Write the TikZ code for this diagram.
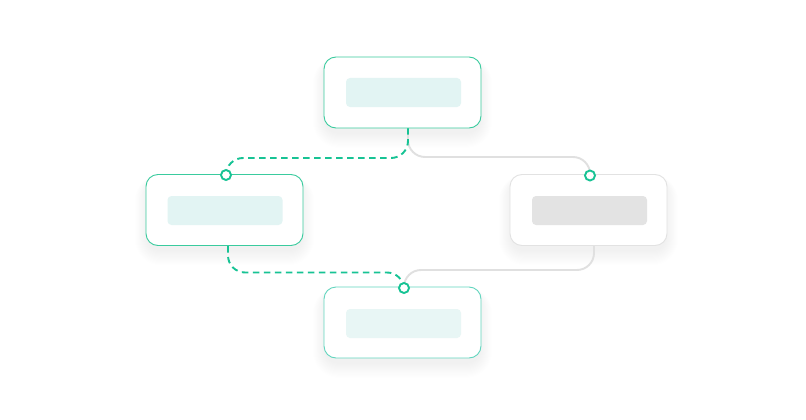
\documentclass[tikz,border=0pt]{standalone}
\usetikzlibrary{calc}
\definecolor{grn}{HTML}{17C394}
\definecolor{grnb}{HTML}{3ACB9E}
\definecolor{tealb}{HTML}{7DDCD3}
\definecolor{innerg}{HTML}{E2F4F3}
\definecolor{innergr}{HTML}{E3E3E3}
\definecolor{grayb}{HTML}{E2E2E2}
\definecolor{grayl}{HTML}{E0E0E0}
\tikzset{
  x=1pt, y=-1pt,
  card/.style={draw=grnb, line width=0.9pt, fill=white, rounded corners=12pt, minimum width=157pt, minimum height=71pt, inner sep=0pt},
  graycard/.style={card, draw=grayb},
  inbox/.style={fill=innerg, rounded corners=4pt, minimum width=115pt, minimum height=29pt, inner sep=0pt},
  ingray/.style={inbox, fill=innergr},
  dline/.style={draw=grn, line width=1.9pt, dash pattern=on 6.5pt off 4.5pt, rounded corners=17pt},
  gline/.style={draw=grayl, line width=1.9pt, rounded corners=17pt},
  port/.style={circle, draw=grn, line width=1.9pt, fill=white, minimum size=10pt, inner sep=0pt},
}
\newcommand{\softshadow}[1]{%
  \foreach \i in {1,...,14}{
    \fill[black, opacity=0.0055, rounded corners=12pt+\i pt]
      ($(#1.north west)+(-\i*0.9+2,6-\i*0.4)$) rectangle ($(#1.south east)+(\i*0.9-2,4+\i*1.1)$);
  }}
\begin{document}
\begin{tikzpicture}
\useasboundingbox (0,0) rectangle (806,420);
\fill[white] (0,0) rectangle (806,420);
% invisible anchors for shadows
\path (402.5,92.5) node[card, draw=none, fill=none] (sT) {};
\path (224.5,210) node[card, draw=none, fill=none] (sL) {};
\path (588.5,210) node[card, draw=none, fill=none] (sR) {};
\path (402.5,322.5) node[card, draw=none, fill=none] (sB) {};
\softshadow{sT}\softshadow{sL}\softshadow{sR}\softshadow{sB}
% connectors
\coordinate (tOut) at (408,128);
\coordinate (lOut) at (228,246);
\coordinate (rOut) at (594,246);
\path (226,175) coordinate (lIn);
\path (590,175.5) coordinate (rIn);
\path (404,288) coordinate (bIn);
\draw[gline] (tOut) -- (408,157) -- (590,157) -- (rIn);
\draw[dline] (tOut) -- (408,158) -- (226,158) -- (lIn);
\draw[gline] (rOut) -- (594,270) -- (404,270) -- (bIn);
\draw[dline] (lOut) -- (228,272.5) -- (404,272.5) -- (bIn);
% nodes
\node[card] (top) at (402.5,92.5) {};
\node[card] (left) at (224.5,210) {};
\node[graycard] (right) at (588.5,210) {};
\node[card, draw=tealb!60!grnb] (bottom) at (402.5,322.5) {};
\node[inbox] (topin) at (403.5,92.5) {};
\node[inbox] (leftin) at (225,210.5) {};
\node[ingray] (rightin) at (589.5,210.5) {};
\node[inbox, fill=innerg!80!white] (bottomin) at (403.5,323.5) {};
% ports
\node[port] (pl) at (lIn) {};
\node[port] (pr) at (rIn) {};
\node[port] (pb) at (bIn) {};
\end{tikzpicture}
\end{document}
